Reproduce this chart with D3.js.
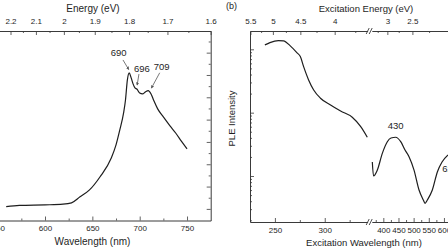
<!DOCTYPE html>
<html>
<head>
<meta charset="utf-8">
<script src="https://cdn.jsdelivr.net/npm/d3@7"></script>
<style>
	body { margin: 0; background: #fff; }
	svg { display: block; font-family: "Liberation Sans", Arial, sans-serif; }
</style>
</head>
<body>
<svg id="chart" width="448" height="252"></svg>
<script>
// ---- data ----

// panel (a): PL emission spectrum (linear counts)
const plWavelength = [559, 573, 600, 619, 628, 637, 647, 658, 670, 675, 679, 683, 685, 687, 689, 691, 693, 695, 697, 700, 703, 706, 709, 712, 715, 719, 725, 732, 738, 744, 750];
const plIntensity = [1100, 1155, 1180, 1210, 1270, 1540, 1850, 2430, 3280, 3870, 4540, 5300, 5880, 6780, 7090, 6870, 6600, 6420, 6370, 6190, 6150, 6240, 6300, 6150, 5840, 5480, 5120, 4720, 4400, 4040, 3690];
const plPeakLabels = ['690', '696', '709'];
const plPeakWl = [689, 697, 709];

// panel (b): PLE spectrum (log scale), split by the axis break
const pleWlUV = [240, 245, 253.5, 258.6, 265.4, 272, 275.5, 278.8, 283.8, 288.9, 295.7, 305.8, 315.9, 327.6, 336.1, 342.7];
const pleUV = [1173, 1276, 1372, 1357, 1132, 887, 767, 533, 329, 228, 169, 132, 106, 84.6, 60.1, 40.9];
const pleWlVis = [363.7, 367.7, 380.2, 396.7, 413.2, 425.4, 440.9, 457.4, 471.6, 484.8, 501.3, 517.8, 532, 537.6, 545.2, 561.7, 578.2, 593.7, 613.5];
const pleVis = [16.6, 10, 12.4, 22.8, 34.8, 39.8, 40.9, 34.8, 25.7, 20.2, 12.4, 6.01, 4.18, 3.7, 4.18, 6.01, 11.6, 16.6, 21.5];
const pleLabels = ['430', '620'];
const pleLabelWl = [440.9, 596];

// tick values
const wlMajorA = [550, 600, 650, 700, 750];
const wlMinorA = [575, 625, 675, 725];
const evMajorA = [2.2, 2.1, 2.0, 1.9, 1.8, 1.7, 1.6];
const evMinorA = [2.25, 2.15, 2.05, 1.95, 1.85, 1.75, 1.65];
const countMajorA = [1000, 2000, 3000, 4000, 5000, 6000, 7000, 8000];
const countMinorA = [1500, 2500, 3500, 4500, 5500, 6500, 7500, 8500];

const wlMajorB1 = [250, 300];
const wlMinorB1 = [275, 325];
const wlMajorB2 = [400, 450, 500, 550, 600];
const wlMinorB2 = [375, 425, 475, 525, 575, 625];
const evMajorB1 = [5.5, 5, 4.5, 4];
const evMinorB1 = [5.25, 4.75, 4.25, 3.75];
const evMajorB2 = [3, 2.5];
const evMinorB2 = [3.25, 2.75, 2.25];
const logMajorB = [10, 100, 1000];
const logMinorB = [2, 3, 4, 5, 6, 7, 8, 9, 20, 30, 40, 50, 60, 70, 80, 90, 200, 300, 400, 500, 600, 700, 800, 900];

// ---- styling ----
const ink = '#1e1e1e';
const axisInk = '#3a3a3a';
const toNm = (ev) => 1239.84 / ev;
const fmt = d3.format('~g');

const svg = d3.select('#chart');

// helper: inward ticks, optional labels
function drawAxis(g, axis, opts) {
	const sel = g.call(axis);
	sel.select('.domain').attr('stroke', axisInk).attr('stroke-width', 1);
	if (opts.noDomain) sel.select('.domain').remove();
	sel.selectAll('.tick line').attr('stroke', axisInk).attr('stroke-width', 0.8);
	sel.selectAll('.tick text')
		.attr('fill', ink)
		.style('font-size', '8px')
		.style('font-family', '"Liberation Sans", Arial, sans-serif');
	return sel;
}

// ================= panel (a) =================
const aTop = 31, aBottom = 220.5, aRight = 210.7;
const ax = d3.scaleLinear().domain([540, 775]).range([-11.8, aRight]);
const ay = d3.scaleLinear().domain([480, 8970]).range([aBottom, aTop]);

const ga = svg.append('g');

// bottom axis (wavelength)
drawAxis(ga.append('g').attr('transform', `translate(0,${aBottom})`),
	d3.axisBottom(ax).tickValues(wlMajorA).tickSize(-4).tickSizeOuter(0).tickPadding(5), {});
drawAxis(ga.append('g').attr('transform', `translate(0,${aBottom})`),
	d3.axisBottom(ax).tickValues(wlMinorA).tickSize(-2).tickFormat(''), { noDomain: true });

// top axis (energy)
const evScaleA = ax.copy();
drawAxis(ga.append('g').attr('transform', `translate(0,${aTop})`),
	d3.axisTop(evScaleA).tickValues(evMajorA.map(toNm)).tickSize(-4).tickSizeOuter(0).tickPadding(7)
		.tickFormat((d, i) => fmt(evMajorA[i])), {});
drawAxis(ga.append('g').attr('transform', `translate(0,${aTop})`),
	d3.axisTop(evScaleA).tickValues(evMinorA.map(toNm)).tickSize(-2).tickFormat(''), { noDomain: true });

// right axis (counts, unlabeled)
drawAxis(ga.append('g').attr('transform', `translate(${aRight},0)`),
	d3.axisRight(ay).tickValues(countMajorA).tickSize(-4).tickSizeOuter(0).tickFormat(''), {});
drawAxis(ga.append('g').attr('transform', `translate(${aRight},0)`),
	d3.axisRight(ay).tickValues(countMinorA).tickSize(-2).tickFormat(''), { noDomain: true });

// curve
const plData = plWavelength.map((w, i) => ({ w, v: plIntensity[i] }));
ga.append('path')
	.datum(plData)
	.attr('fill', 'none')
	.attr('stroke', ink)
	.attr('stroke-width', 1.2)
	.attr('d', d3.line().x((d) => ax(d.w)).y((d) => ay(d.v)).curve(d3.curveMonotoneX));

// peak annotations
svg.append('defs').append('marker')
	.attr('id', 'tip')
	.attr('viewBox', '0 0 6 6')
	.attr('refX', 5).attr('refY', 3)
	.attr('markerWidth', 4).attr('markerHeight', 4)
	.attr('orient', 'auto')
	.append('path').attr('d', 'M0,0L6,3L0,6Z').attr('fill', '#555');

const plPeakOffsets = [
	{ tx: -10.6, ty: -17, x1: -6.3, y1: -13, x2: -0.6, y2: -3.5 },
	{ tx: 5, ty: -17.5, x1: 2.1, y1: -15, x2: 0.3, y2: -4 },
	{ tx: 13.5, ty: -20.5, x1: 11.5, y1: -17.8, x2: 3.2, y2: -2.5 },
];
plPeakWl.forEach((w, i) => {
	const v = plIntensity[plWavelength.indexOf(w)];
	const px = ax(w), py = ay(v), o = plPeakOffsets[i];
	ga.append('line')
		.attr('x1', px + o.x1).attr('y1', py + o.y1)
		.attr('x2', px + o.x2).attr('y2', py + o.y2)
		.attr('stroke', '#555').attr('stroke-width', 0.8)
		.attr('marker-end', 'url(#tip)');
	ga.append('text')
		.attr('x', px + o.tx).attr('y', py + o.ty)
		.attr('text-anchor', 'middle')
		.attr('fill', ink)
		.style('font-size', '9.5px')
		.text(plPeakLabels[i]);
});

// titles
ga.append('text').attr('x', 93).attr('y', 12).attr('text-anchor', 'middle')
	.attr('fill', ink).style('font-size', '10px').text('Energy (eV)');
ga.append('text').attr('x', 92.5).attr('y', 245).attr('text-anchor', 'middle')
	.attr('fill', ink).style('font-size', '10px').text('Wavelength (nm)');

// ================= panel (b) =================
const bTop = 31, bBottom = 222, bLeft = 250;
const bx1 = d3.scaleLinear().domain([225, 343]).range([bLeft, 367.6]);
const bx2 = d3.scaleLinear().domain([362, 650]).range([371.8, 459.1]);
const by = d3.scaleLog().domain([1.88, 1945]).range([bBottom, bTop]);
const inDom = (s) => (w) => w >= s.domain()[0] && w <= s.domain()[1];

const gb = svg.append('g');

// bottom axis, two segments
[[bx1, wlMajorB1, wlMinorB1], [bx2, wlMajorB2, wlMinorB2]].forEach(([s, maj, min]) => {
	drawAxis(gb.append('g').attr('transform', `translate(0,${bBottom})`),
		d3.axisBottom(s).tickValues(maj.filter(inDom(s))).tickSize(-4).tickSizeOuter(0).tickPadding(5), {});
	drawAxis(gb.append('g').attr('transform', `translate(0,${bBottom})`),
		d3.axisBottom(s).tickValues(min.filter(inDom(s))).tickSize(-2).tickFormat(''), { noDomain: true });
});

// top axis (energy), two segments
[[bx1, evMajorB1, evMinorB1], [bx2, evMajorB2, evMinorB2]].forEach(([s, maj, min]) => {
	const majV = maj.filter((e) => inDom(s)(toNm(e)));
	drawAxis(gb.append('g').attr('transform', `translate(0,${bTop})`),
		d3.axisTop(s).tickValues(majV.map(toNm)).tickSize(-4).tickSizeOuter(0).tickPadding(7)
			.tickFormat((d, i) => fmt(majV[i])), {});
	drawAxis(gb.append('g').attr('transform', `translate(0,${bTop})`),
		d3.axisTop(s).tickValues(min.map(toNm).filter(inDom(s))).tickSize(-2).tickFormat(''), { noDomain: true });
});

// left axis (log)
drawAxis(gb.append('g').attr('transform', `translate(${bLeft},0)`),
	d3.axisLeft(by).tickValues(logMajorB).tickSize(-4).tickSizeOuter(0).tickFormat(''), {});
drawAxis(gb.append('g').attr('transform', `translate(${bLeft},0)`),
	d3.axisLeft(by).tickValues(logMinorB).tickSize(-2).tickFormat(''), { noDomain: true });

// axis break marks
const xb = (bx1.range()[1] + bx2.range()[0]) / 2;
[bTop, bBottom].forEach((yy) => {
	[-3.5, -0.5].forEach((dx) => {
		gb.append('line')
			.attr('x1', xb + dx).attr('y1', yy + 3)
			.attr('x2', xb + dx + 3).attr('y2', yy - 3)
			.attr('stroke', axisInk).attr('stroke-width', 0.9);
	});
});

// curves
const pleLine = (s) => d3.line().x((d) => s(d.w)).y((d) => by(d.v)).curve(d3.curveMonotoneX);
gb.append('path')
	.datum(pleWlUV.map((w, i) => ({ w, v: pleUV[i] })))
	.attr('fill', 'none').attr('stroke', ink).attr('stroke-width', 1.2)
	.attr('d', pleLine(bx1));
gb.append('path')
	.datum(pleWlVis.map((w, i) => ({ w, v: pleVis[i] })))
	.attr('fill', 'none').attr('stroke', ink).attr('stroke-width', 1.2)
	.attr('d', pleLine(bx2));

// peak labels
const pleLabelPos = [
	{ dx: 0, dy: -8, anchor: 'middle' },
	{ dx: -0.5, dy: 0, anchor: 'start', v: 11.5 },
];
pleLabelWl.forEach((w, i) => {
	const o = pleLabelPos[i];
	const v = o.v !== undefined ? o.v : pleVis[pleWlVis.indexOf(w)];
	gb.append('text')
		.attr('x', bx2(w) + o.dx).attr('y', by(v) + o.dy)
		.attr('text-anchor', o.anchor)
		.attr('fill', ink)
		.style('font-size', '9.5px')
		.text(pleLabels[i]);
});

// titles
gb.append('text').attr('x', 226).attr('y', 9)
	.attr('fill', ink).style('font-size', '9px').text('(b)');
gb.append('text').attr('x', 366).attr('y', 12).attr('text-anchor', 'middle')
	.attr('fill', ink).style('font-size', '9.5px').text('Excitation Energy (eV)');
gb.append('text').attr('x', 364).attr('y', 246).attr('text-anchor', 'middle')
	.attr('fill', ink).style('font-size', '9.5px').text('Excitation Wavelength (nm)');
gb.append('text')
	.attr('transform', `translate(235,118.5) rotate(-90)`)
	.attr('text-anchor', 'middle')
	.attr('fill', ink).style('font-size', '9.5px').text('PLE Intensity');
</script>
</body>
</html>
